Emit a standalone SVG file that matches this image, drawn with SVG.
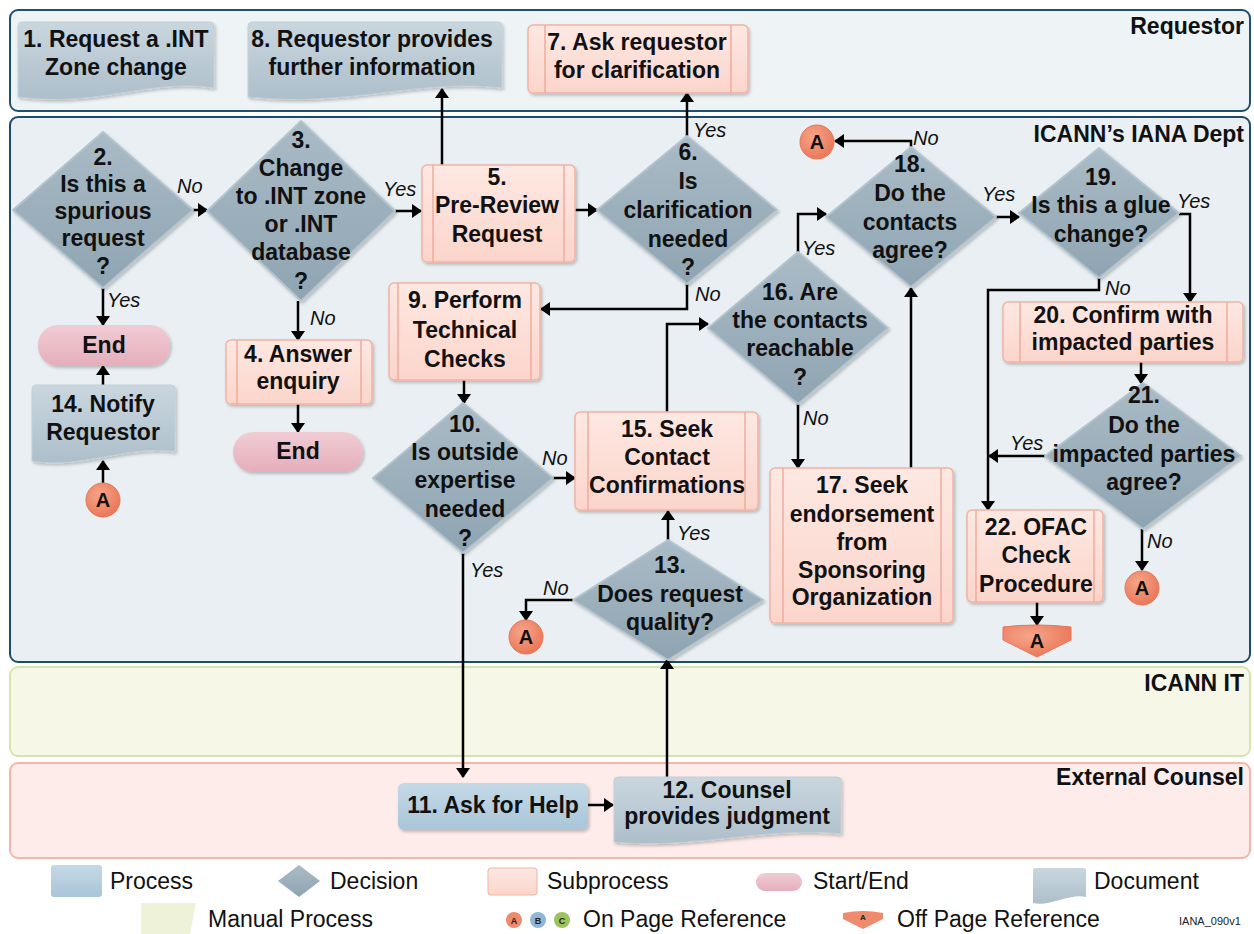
<svg xmlns="http://www.w3.org/2000/svg" width="1254" height="934" viewBox="0 0 1254 934">
<defs>
<marker id="ah" viewBox="0 0 10 14" refX="9" refY="7" markerWidth="10" markerHeight="14" markerUnits="userSpaceOnUse" orient="auto"><path d="M0,0 L10,7 L0,14 Z" fill="#000"/></marker>
<linearGradient id="gDec" x1="0" y1="0" x2="0" y2="1"><stop offset="0" stop-color="#a9bbc6"/><stop offset="1" stop-color="#8fa4b2"/></linearGradient>
<linearGradient id="gSub" x1="0" y1="0" x2="0" y2="1"><stop offset="0" stop-color="#fde8e2"/><stop offset="1" stop-color="#fbd5cb"/></linearGradient>
<linearGradient id="gDoc" x1="0" y1="0" x2="0" y2="1"><stop offset="0" stop-color="#c9d6de"/><stop offset="1" stop-color="#adbfcb"/></linearGradient>
<linearGradient id="gEnd" x1="0" y1="0" x2="0" y2="1"><stop offset="0" stop-color="#f1ccd4"/><stop offset="1" stop-color="#e4aebb"/></linearGradient>
<linearGradient id="gProc" x1="0" y1="0" x2="0" y2="1"><stop offset="0" stop-color="#c4d9e7"/><stop offset="1" stop-color="#a9c5d8"/></linearGradient>
<radialGradient id="gRef" cx="0.4" cy="0.35" r="0.7"><stop offset="0" stop-color="#f6a68a"/><stop offset="1" stop-color="#ea7456"/></radialGradient>
<filter id="sh" x="-10%" y="-10%" width="125%" height="130%"><feDropShadow dx="1.5" dy="2" stdDeviation="1.5" flood-color="#000" flood-opacity="0.22"/></filter>
</defs>
<style>
.lane{stroke-width:2}
.lt{font-family:"Liberation Sans",Arial,sans-serif;font-weight:bold;font-size:23px;fill:#111;text-anchor:end}
.t{font-family:"Liberation Sans",Arial,sans-serif;font-weight:bold;font-size:23px;fill:#111;text-anchor:middle}
.lbl{font-family:"Liberation Sans",Arial,sans-serif;font-style:italic;font-size:20px;fill:#111}
.leg{font-family:"Liberation Sans",Arial,sans-serif;font-size:23px;fill:#111}
.dec{fill:url(#gDec);stroke:#b4c4ce;stroke-width:2;stroke-linejoin:round;filter:url(#sh)}
.sub{fill:url(#gSub);stroke:#f3b3a4;stroke-width:1.5;filter:url(#sh)}
.subl{stroke:#f0ab9b;stroke-width:1.5}
.doc{fill:url(#gDoc);stroke:#c3d0d8;stroke-width:1;filter:url(#sh)}
.end{fill:url(#gEnd);filter:url(#sh)}
.ref{fill:url(#gRef);stroke:#e8755a;stroke-width:1}
.reft{font-family:"Liberation Sans",Arial,sans-serif;font-weight:bold;font-size:20px;fill:#111;text-anchor:middle}
.c{fill:none;stroke:#000;stroke-width:2.5;marker-end:url(#ah)}
</style>

<g id="lanes">
<rect class="lane" x="10" y="10" width="1240" height="101" rx="8" fill="#eef3f6" stroke="#1f5070"/>
<rect class="lane" x="10" y="117" width="1240" height="545" rx="8" fill="#e9eff2" stroke="#1f4a68"/>
<rect class="lane" x="10" y="667" width="1240" height="89" rx="8" fill="#f6f7e7" stroke="#d9e3b0"/>
<rect class="lane" x="10" y="763" width="1240" height="95" rx="8" fill="#fdece9" stroke="#f3b6a9"/>
<text class="lt" x="1244" y="34">Requestor</text>
<text class="lt" x="1244" y="142">ICANN’s IANA Dept</text>
<text class="lt" x="1244" y="691">ICANN IT</text>
<text class="lt" x="1244" y="785">External Counsel</text>
</g>

<g id="connectors">
<path class="c" d="M193,210 H207"/>
<path class="c" d="M395,211 H421"/>
<path class="c" d="M442,165 V89"/>
<path class="c" d="M575,210 H597"/>
<path class="c" d="M687,136 V93"/>
<path class="c" d="M687,284 V309 H541"/>
<path class="c" d="M103,288 V325"/>
<path class="c" d="M298,301 V340"/>
<path class="c" d="M298,404 V432"/>
<path class="c" d="M103,385 V366"/>
<path class="c" d="M103,483 V461"/>
<path class="c" d="M464,380 V403"/>
<path class="c" d="M553,478 H575"/>
<path class="c" d="M463,553 V777"/>
<path class="c" d="M588,805 H613"/>
<path class="c" d="M667,777 V660"/>
<path class="c" d="M668,540 V511"/>
<path class="c" d="M573,600 H526 V620"/>
<path class="c" d="M667,412 V324 H708"/>
<path class="c" d="M798,252 V214 H826"/>
<path class="c" d="M798,404 V468"/>
<path class="c" d="M911,468 V288"/>
<path class="c" d="M911,147 V141 H835"/>
<path class="c" d="M996,217 H1019"/>
<path class="c" d="M1179,214 H1190 V302"/>
<path class="c" d="M1099,278 V290 H988 V510"/>
<path class="c" d="M1141,362 V383"/>
<path class="c" d="M1045,456 H989"/>
<path class="c" d="M1142,529 V570"/>
<path class="c" d="M1037,602 V625"/>
<text class="lbl" x="177" y="193">No</text>
<text class="lbl" x="383" y="196">Yes</text>
<text class="lbl" x="693" y="137">Yes</text>
<text class="lbl" x="695" y="301">No</text>
<text class="lbl" x="107" y="307">Yes</text>
<text class="lbl" x="310" y="325">No</text>
<text class="lbl" x="542" y="465">No</text>
<text class="lbl" x="470" y="577">Yes</text>
<text class="lbl" x="677" y="540">Yes</text>
<text class="lbl" x="543" y="595">No</text>
<text class="lbl" x="802" y="255">Yes</text>
<text class="lbl" x="803" y="425">No</text>
<text class="lbl" x="913" y="145">No</text>
<text class="lbl" x="982" y="201">Yes</text>
<text class="lbl" x="1177" y="208">Yes</text>
<text class="lbl" x="1105" y="295">No</text>
<text class="lbl" x="1010" y="450">Yes</text>
<text class="lbl" x="1147" y="548">No</text>
</g>

<g id="n1"><path class="doc" d="M22,22 H210 Q214,22 214,26 V88 C150,78 100,108 18,97 V26 Q18,22 22,22 Z"/>
<text class="t" x="116" y="47">1. Request a .INT</text><text class="t" x="116" y="75">Zone change</text></g>
<g id="n8"><path class="doc" d="M252,22 H498 Q502,22 502,26 V88 C420,78 350,108 248,97 V26 Q248,22 252,22 Z"/>
<text class="t" x="372" y="47">8. Requestor provides</text><text class="t" x="372" y="75">further information</text></g>
<g id="n7"><rect class="sub" x="528" y="25" width="220" height="68" rx="5"/><line class="subl" x1="545" y1="25" x2="545" y2="93"/><line class="subl" x1="731" y1="25" x2="731" y2="93"/>
<text class="t" x="637" y="50">7. Ask requestor</text><text class="t" x="637" y="78">for clarification</text></g>

<g id="n2"><polygon class="dec" points="103,132 193,210 103,288 13,210"/>
<text class="t" x="103" y="165">2.</text><text class="t" x="103" y="192">Is this a</text><text class="t" x="103" y="219">spurious</text><text class="t" x="103" y="246">request</text><text class="t" x="103" y="274">?</text></g>
<g id="n3"><polygon class="dec" points="301,121 395,211 301,301 207,211"/>
<text class="t" x="301" y="148">3.</text><text class="t" x="301" y="176">Change</text><text class="t" x="301" y="204">to .INT zone</text><text class="t" x="301" y="232">or .INT</text><text class="t" x="301" y="260">database</text><text class="t" x="301" y="289">?</text></g>
<g id="n5"><rect class="sub" x="422" y="165" width="153" height="97" rx="5"/><line class="subl" x1="433" y1="165" x2="433" y2="262"/><line class="subl" x1="564" y1="165" x2="564" y2="262"/>
<text class="t" x="497" y="185">5.</text><text class="t" x="497" y="213">Pre-Review</text><text class="t" x="497" y="242">Request</text></g>
<g id="n6"><polygon class="dec" points="687,136 777,210 687,284 597,210"/>
<text class="t" x="688" y="160">6.</text><text class="t" x="688" y="189">Is</text><text class="t" x="688" y="218">clarification</text><text class="t" x="688" y="247">needed</text><text class="t" x="688" y="275">?</text></g>

<g id="end1"><rect class="end" x="38" y="325" width="132" height="41" rx="20"/><text class="t" x="104" y="353">End</text></g>
<g id="n14"><path class="doc" d="M36,385 H171 Q175,385 175,389 V452 C130,444 80,470 32,461 V389 Q32,385 36,385 Z"/>
<text class="t" x="103" y="412">14. Notify</text><text class="t" x="103" y="440">Requestor</text></g>
<g id="refA1"><circle class="ref" cx="103" cy="500" r="17"/><text class="reft" x="103" y="507">A</text></g>

<g id="n4"><rect class="sub" x="226" y="340" width="146" height="64" rx="5"/><line class="subl" x1="237" y1="340" x2="237" y2="404"/><line class="subl" x1="361" y1="340" x2="361" y2="404"/>
<text class="t" x="298" y="362">4. Answer</text><text class="t" x="298" y="389">enquiry</text></g>
<g id="end2"><rect class="end" x="233" y="432" width="130" height="40" rx="20"/><text class="t" x="298" y="459">End</text></g>

<g id="n9"><rect class="sub" x="389" y="283" width="151" height="97" rx="5"/><line class="subl" x1="398" y1="283" x2="398" y2="380"/><line class="subl" x1="531" y1="283" x2="531" y2="380"/>
<text class="t" x="465" y="308">9. Perform</text><text class="t" x="465" y="338">Technical</text><text class="t" x="465" y="367">Checks</text></g>
<g id="n10"><polygon class="dec" points="463,403 553,478 463,553 373,478"/>
<text class="t" x="465" y="432">10.</text><text class="t" x="465" y="460">Is outside</text><text class="t" x="465" y="488">expertise</text><text class="t" x="465" y="517">needed</text><text class="t" x="465" y="546">?</text></g>
<g id="n15"><rect class="sub" x="575" y="412" width="183" height="98" rx="5"/><line class="subl" x1="588" y1="412" x2="588" y2="510"/><line class="subl" x1="745" y1="412" x2="745" y2="510"/>
<text class="t" x="667" y="437">15. Seek</text><text class="t" x="667" y="465">Contact</text><text class="t" x="667" y="493">Confirmations</text></g>
<g id="n13"><polygon class="dec" points="668,540 763,600 668,660 573,600"/>
<text class="t" x="670" y="573">13.</text><text class="t" x="670" y="602">Does request</text><text class="t" x="670" y="630">quality?</text></g>
<g id="refA2"><circle class="ref" cx="526" cy="637" r="17"/><text class="reft" x="526" y="644">A</text></g>

<g id="n16"><polygon class="dec" points="798,252 888,328 798,404 708,328"/>
<text class="t" x="800" y="300">16. Are</text><text class="t" x="800" y="328">the contacts</text><text class="t" x="800" y="356">reachable</text><text class="t" x="800" y="385">?</text></g>
<g id="n17"><rect class="sub" x="770" y="468" width="183" height="155" rx="5"/><line class="subl" x1="783" y1="468" x2="783" y2="623"/><line class="subl" x1="941" y1="468" x2="941" y2="623"/>
<text class="t" x="862" y="493">17. Seek</text><text class="t" x="862" y="522">endorsement</text><text class="t" x="862" y="550">from</text><text class="t" x="862" y="578">Sponsoring</text><text class="t" x="862" y="605">Organization</text></g>
<g id="n18"><polygon class="dec" points="911,147 996,217 911,287 826,217"/>
<text class="t" x="910" y="172">18.</text><text class="t" x="910" y="201">Do the</text><text class="t" x="910" y="230">contacts</text><text class="t" x="910" y="258">agree?</text></g>
<g id="refA3"><circle class="ref" cx="817" cy="142" r="17"/><text class="reft" x="817" y="149">A</text></g>
<g id="n19"><polygon class="dec" points="1099,148 1179,213 1099,278 1019,213"/>
<text class="t" x="1101" y="185">19.</text><text class="t" x="1101" y="213">Is this a glue</text><text class="t" x="1101" y="242">change?</text></g>
<g id="n20"><rect class="sub" x="1003" y="302" width="240" height="60" rx="5"/><line class="subl" x1="1020" y1="302" x2="1020" y2="362"/><line class="subl" x1="1227" y1="302" x2="1227" y2="362"/>
<text class="t" x="1123" y="323">20. Confirm with</text><text class="t" x="1123" y="350">impacted parties</text></g>
<g id="n21"><polygon class="dec" points="1143,383 1241,456 1143,529 1045,456"/>
<text class="t" x="1144" y="403">21.</text><text class="t" x="1144" y="433">Do the</text><text class="t" x="1144" y="462">impacted parties</text><text class="t" x="1144" y="490">agree?</text></g>
<g id="refA4"><circle class="ref" cx="1142" cy="588" r="17"/><text class="reft" x="1142" y="595">A</text></g>
<g id="n22"><rect class="sub" x="967" y="510" width="136" height="92" rx="5"/><line class="subl" x1="976" y1="510" x2="976" y2="602"/><line class="subl" x1="1094" y1="510" x2="1094" y2="602"/>
<text class="t" x="1036" y="535">22. OFAC</text><text class="t" x="1036" y="563">Check</text><text class="t" x="1036" y="592">Procedure</text></g>
<g id="offA"><path class="ref" d="M1003,627 Q1037,623 1071,627 V640 L1037,657 L1003,640 Z"/><text class="reft" x="1037" y="648" font-size="18">A</text></g>

<g id="n11"><rect x="398" y="783" width="190" height="47" rx="6" fill="url(#gProc)" filter="url(#sh)"/><text class="t" x="493" y="813">11. Ask for Help</text></g>
<g id="n12"><path class="doc" d="M618,777 H837 Q841,777 841,781 V834 C770,826 690,850 614,842 V781 Q614,777 618,777 Z"/>
<text class="t" x="727" y="798">12. Counsel</text><text class="t" x="727" y="824">provides judgment</text></g>

<g id="legend">
<rect x="51" y="865" width="51" height="32" rx="3" fill="url(#gProc)"/><text class="leg" x="110" y="889">Process</text>
<polygon points="278,881 299,865 320,881 299,897" fill="url(#gDec)"/><text class="leg" x="330" y="889">Decision</text>
<rect x="488" y="868" width="49" height="27" rx="3" fill="url(#gSub)" stroke="#f3b3a4"/><text class="leg" x="547" y="889">Subprocess</text>
<rect x="756" y="873" width="46" height="18" rx="9" fill="url(#gEnd)"/><text class="leg" x="813" y="889">Start/End</text>
<path d="M1035,868 H1084 Q1086,868 1086,870 V897 C1070,893 1050,907 1033,903 V870 Q1033,868 1035,868 Z" fill="url(#gDoc)"/><text class="leg" x="1094" y="889">Document</text>
<path d="M141,903 H196 L190,934 H141 Z" fill="#eef2d8"/><text class="leg" x="208" y="927">Manual Process</text>
<circle cx="514" cy="920" r="8" fill="#ef8a6c"/><text x="514" y="924" font-family="Liberation Sans,Arial,sans-serif" font-size="9" font-weight="bold" text-anchor="middle" fill="#222">A</text>
<circle cx="538" cy="920" r="8" fill="#8fb6d3"/><text x="538" y="924" font-family="Liberation Sans,Arial,sans-serif" font-size="9" font-weight="bold" text-anchor="middle" fill="#222">B</text>
<circle cx="562" cy="920" r="8" fill="#9cc25a"/><text x="562" y="924" font-family="Liberation Sans,Arial,sans-serif" font-size="9" font-weight="bold" text-anchor="middle" fill="#222">C</text>
<text class="leg" x="583" y="927">On Page Reference</text>
<path d="M843,913 Q863,909 883,913 V919 L863,929 L843,919 Z" fill="#ef8a6c"/><text x="863" y="920" font-family="Liberation Sans,Arial,sans-serif" font-size="8" font-weight="bold" text-anchor="middle" fill="#222">A</text>
<text class="leg" x="897" y="927">Off Page Reference</text>
<text x="1179" y="925" font-family="Liberation Sans,Arial,sans-serif" font-size="11" fill="#222">IANA_090v1</text>
</g>
</svg>
